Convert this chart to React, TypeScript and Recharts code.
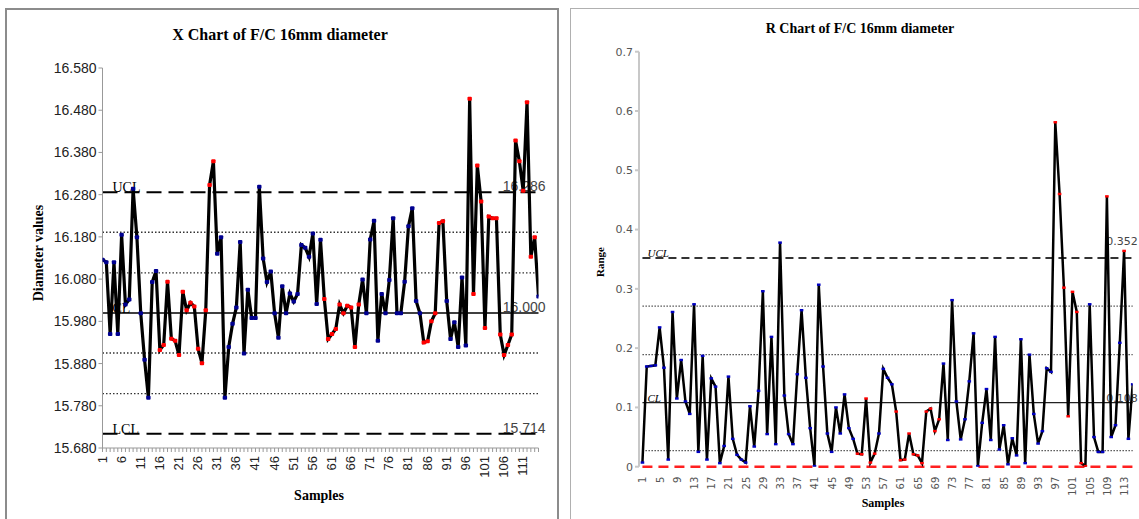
import { LineChart, Line, XAxis, YAxis, ReferenceLine } from "recharts"

// ---- X chart data ----
const xbarValues = [
  16.126, 16.12, 15.95, 16.12, 15.95, 16.185, 16.02, 16.032, 16.294, 16.179,
  15.999, 15.889, 15.799, 16.073, 16.099, 15.912, 15.924, 16.074, 15.939, 15.934,
  15.9, 16.05, 16.006, 16.024, 16.015, 15.915, 15.881, 16.006, 16.303, 16.359,
  16.14, 16.179, 15.799, 15.919, 15.974, 16.013, 16.168, 15.904, 16.055, 15.988,
  15.988, 16.299, 16.129, 16.073, 16.098, 15.999, 15.941, 16.063, 15.999, 16.046,
  16.027, 16.045, 16.161, 16.154, 16.133, 16.188, 16.021, 16.173, 16.033, 15.938,
  15.95, 15.962, 16.02, 15.999, 16.017, 16.013, 15.919, 16.02, 16.079, 15.999,
  16.174, 16.218, 15.934, 16.045, 15.999, 16.078, 16.224, 15.999, 15.999, 16.074,
  16.205, 16.248, 16.028, 15.999, 15.93, 15.933, 15.98, 15.999, 16.213, 16.217,
  16.028, 15.938, 15.978, 15.919, 16.084, 15.923, 16.507, 16.045, 16.349, 16.264,
  15.964, 16.228, 16.224, 16.224, 15.949, 15.9, 15.924, 15.949, 16.408, 16.359,
  16.289, 16.499, 16.133, 16.179, 16.039,
]
// samples that break a run rule (drawn red)
const xbarFlagged = [
  16, 17, 18, 19, 20, 21, 22, 23, 24, 25, 26, 27, 28, 29, 30,
  59, 60, 61, 62, 63, 64, 65, 66, 67, 68,
  85, 86, 87, 88, 89, 90,
  97, 98, 99, 100, 101, 102, 103, 104, 105, 106, 107, 108, 109, 110, 111, 112, 113, 114,
]
const xbarTicks = [15.68, 15.78, 15.88, 15.98, 16.08, 16.18, 16.28, 16.38, 16.48, 16.58]
const xbarUcl = 16.286
const xbarCl = 16.0
const xbarLcl = 15.714
const xbarZones = [16.191, 16.095, 15.905, 15.809]

// ---- R chart data ----
const rangeValues = [
  0.007, 0.169, 0.17, 0.171, 0.235, 0.167, 0.012, 0.261, 0.115, 0.18,
  0.11, 0.089, 0.274, 0.025, 0.187, 0.012, 0.149, 0.135, 0.006, 0.035,
  0.152, 0.047, 0.02, 0.012, 0.007, 0.102, 0.034, 0.128, 0.296, 0.055,
  0.219, 0.038, 0.378, 0.12, 0.055, 0.038, 0.156, 0.264, 0.15, 0.065,
  0.001, 0.307, 0.169, 0.056, 0.025, 0.1, 0.056, 0.122, 0.065, 0.047,
  0.022, 0.021, 0.115, 0.007, 0.022, 0.056, 0.165, 0.15, 0.139, 0.093,
  0.011, 0.012, 0.056, 0.021, 0.019, 0.006, 0.093, 0.098, 0.06, 0.08,
  0.174, 0.045, 0.281, 0.11, 0.046, 0.08, 0.144, 0.225, 0.001, 0.074,
  0.131, 0.045, 0.219, 0.029, 0.07, 0.004, 0.048, 0.019, 0.215, 0.006,
  0.189, 0.089, 0.039, 0.06, 0.166, 0.16, 0.581, 0.46, 0.302, 0.085,
  0.295, 0.261, 0.006, 0.001, 0.274, 0.05, 0.025, 0.025, 0.456, 0.05,
  0.07, 0.209, 0.364, 0.047, 0.139,
]
const rangeFlagged = [
  51, 52, 53, 54, 55, 60, 61, 62, 63, 64, 65, 66, 67, 68, 69, 70,
  97, 98, 99, 100, 101, 102, 103, 104, 109, 113,
]
const rangeTicks = [0, 0.1, 0.2, 0.3, 0.4, 0.5, 0.6, 0.7]
const rangeUcl = 0.352
const rangeCl = 0.108
const rangeLcl = 0
const rangeZones = [0.271, 0.189, 0.027]

const serif = "'Liberation Serif', 'Times New Roman', serif"
const sans = "'Liberation Sans', Arial, sans-serif"
const dejavu = "'DejaVu Sans', Verdana, sans-serif"

const xbarData = xbarValues.map((v, i) => ({ s: i + 1, v, flag: xbarFlagged.includes(i + 1) }))
const rangeData = rangeValues.map((v, i) => ({ s: i + 1, v, flag: rangeFlagged.includes(i + 1) }))
const xbarSamples = xbarData.map((d) => d.s)
const rangeSamples = rangeData.filter((d) => (d.s - 1) % 4 === 0).map((d) => d.s)
const lastX = xbarData.length
const lastR = rangeData.length

function seg(y: number, last: number) {
  return [{ x: 1, y }, { x: last, y }]
}

// label pair for a limit line: name on the left, value on the right
function limitLabel(name: string, value: string, o: any) {
  return (props: any) => {
    const vb = props.viewBox || {}
    return (
      <g>
        <text x={vb.x + o.nameDx} y={vb.y + o.nameDy} fontFamily={serif} fontSize={o.nameSize}
          fontStyle={o.italic ? "italic" : "normal"} fill="#000">{name}</text>
        <text x={vb.x + vb.width + o.valDx} y={vb.y + o.valDy} fontFamily={o.valFont} fontSize={o.valSize}
          textAnchor="end" fill="#444">{value}</text>
      </g>
    )
  }
}

const xLab = { nameDx: 10, nameDy: 0, nameSize: 14, valDx: 7, valDy: -1, valFont: sans, valSize: 14 }
const rLab = { nameDx: 5, nameDy: -1, nameSize: 11, italic: true, valDx: 5, valDy: -1, valFont: dejavu, valSize: 11 }

function XbarTick(props: any) {
  const { x, y, payload } = props
  if ((payload.value - 1) % 5 !== 0) return null
  return (
    <text x={x} y={y + 2} transform={`rotate(-90 ${x} ${y + 2})`} textAnchor="end" dy={4}
      fontFamily={sans} fontSize={13} fill="#222">{payload.value}</text>
  )
}

function RangeTick(props: any) {
  const { x, y, payload } = props
  return (
    <text x={x} y={y + 2} transform={`rotate(-90 ${x} ${y + 2})`} textAnchor="end" dy={4}
      fontFamily={dejavu} fontSize={10} fill="#555">{payload.value}</text>
  )
}

function xbarDot(props: any) {
  const { cx, cy, payload, index } = props
  return <rect key={`xd-${index}`} x={cx - 2.2} y={cy - 2} width={4.4} height={4} rx={1}
    fill={payload.flag ? "#ff0000" : "#000090"} />
}

function rangeDot(props: any) {
  const { cx, cy, payload, index } = props
  return <rect key={`rd-${index}`} x={cx - 1.8} y={cy - 1.2} width={3.6} height={2.4}
    fill={payload.flag ? "#ff0000" : "#0000c0"} />
}

export default function App() {
  return (
    <div style={{ position: "absolute", left: 0, top: 0, width: 1139, height: 519, background: "#fff", overflow: "hidden" }}>
      {/* frames */}
      <div style={{ position: "absolute", left: 5, top: 8, width: 550, height: 512, border: "2px solid #8c8c8c" }} />
      <div style={{ position: "absolute", left: 570, top: 8, width: 572, height: 515, border: "1.5px solid #b0b0b0" }} />

      {/* ---------- X chart ---------- */}
      <div style={{ position: "absolute", left: 0, top: 0 }}>
        <LineChart width={560} height={519} data={xbarData}
          margin={{ top: 68, right: 21.5, bottom: 31, left: 42.5 }}>
          <XAxis dataKey="s" type="number" domain={[1, lastX]} ticks={xbarSamples} interval={0}
            tick={<XbarTick />} tickSize={4} stroke="#999" height={40} allowDataOverflow />
          <YAxis type="number" domain={[15.68, 16.58]} ticks={xbarTicks} width={60} interval={0}
            tickFormatter={(v: number) => v.toFixed(3)} tickSize={4} stroke="#999"
            tick={{ fontFamily: sans, fontSize: 14, fill: "#222" }} allowDataOverflow />
          {xbarZones.map((z) => (
            <ReferenceLine key={`xz-${z}`} segment={seg(z, lastX)} stroke="#333" strokeWidth={1.3} strokeDasharray="1.5 2" />
          ))}
          <ReferenceLine segment={seg(xbarUcl, lastX)} stroke="#000" strokeWidth={2} strokeDasharray="15 7"
            label={limitLabel("UCL", xbarUcl.toFixed(3), xLab)} />
          <ReferenceLine segment={seg(xbarCl, lastX)} stroke="#000" strokeWidth={1.5}
            label={limitLabel("CL", xbarCl.toFixed(3), xLab)} />
          <ReferenceLine segment={seg(xbarLcl, lastX)} stroke="#000" strokeWidth={2} strokeDasharray="15 7"
            label={limitLabel("LCL", xbarLcl.toFixed(3), xLab)} />
          <Line dataKey="v" stroke="#000" strokeWidth={3.2} dot={xbarDot} isAnimationActive={false} />
        </LineChart>
      </div>
      <div style={{ position: "absolute", left: 60, top: 26, width: 440, textAlign: "center", fontFamily: serif, fontWeight: "bold", fontSize: 16 }}>
        X Chart of F/C 16mm diameter
      </div>
      <div style={{ position: "absolute", left: 39, top: 253, transform: "translate(-50%, -50%) rotate(-90deg)", whiteSpace: "nowrap", fontFamily: serif, fontWeight: "bold", fontSize: 14 }}>
        Diameter values
      </div>
      <div style={{ position: "absolute", left: 319, top: 496, transform: "translate(-50%, -50%)", fontFamily: serif, fontWeight: "bold", fontSize: 14 }}>
        Samples
      </div>

      {/* ---------- R chart ---------- */}
      <div style={{ position: "absolute", left: 570, top: 0 }}>
        <LineChart width={569} height={519} data={rangeData}
          margin={{ top: 51.7, right: 6.3, bottom: 17.3, left: 29 }}>
          <XAxis dataKey="s" type="number" domain={[0.2, lastR]} ticks={rangeSamples} interval={0}
            tick={<RangeTick />} tickLine={false} axisLine={false} height={35} allowDataOverflow />
          <YAxis type="number" domain={[0, 0.7]} ticks={rangeTicks} width={40} interval={0}
            tickSize={4} stroke="#c8c8c8" strokeWidth={2}
            tick={{ fontFamily: dejavu, fontSize: 11, fill: "#555" }} allowDataOverflow />
          {rangeZones.map((z) => (
            <ReferenceLine key={`rz-${z}`} segment={seg(z, lastR)} stroke="#555" strokeWidth={1.3} strokeDasharray="1.5 1.5" />
          ))}
          <ReferenceLine segment={seg(rangeUcl, lastR)} stroke="#333" strokeWidth={2} strokeDasharray="8 5"
            label={limitLabel("UCL", rangeUcl.toFixed(3), { ...rLab, valDy: -13 })} />
          <ReferenceLine segment={seg(rangeCl, lastR)} stroke="#222" strokeWidth={1.3}
            label={limitLabel("CL", rangeCl.toFixed(3), rLab)} />
          <ReferenceLine segment={seg(rangeLcl, lastR)} stroke="#ff2020" strokeWidth={2.5} strokeDasharray="10 6"
            ifOverflow="visible" />
          <Line dataKey="v" stroke="#000" strokeWidth={2.5} dot={rangeDot} isAnimationActive={false} />
        </LineChart>
      </div>
      <div style={{ position: "absolute", left: 640, top: 21, width: 440, textAlign: "center", fontFamily: serif, fontWeight: "bold", fontSize: 14 }}>
        R Chart of F/C 16mm diameter
      </div>
      <div style={{ position: "absolute", left: 600, top: 262, transform: "translate(-50%, -50%) rotate(-90deg)", whiteSpace: "nowrap", fontFamily: serif, fontWeight: "bold", fontSize: 11 }}>
        Range
      </div>
      <div style={{ position: "absolute", left: 883, top: 503, transform: "translate(-50%, -50%)", fontFamily: serif, fontWeight: "bold", fontSize: 12 }}>
        Samples
      </div>
    </div>
  )
}
